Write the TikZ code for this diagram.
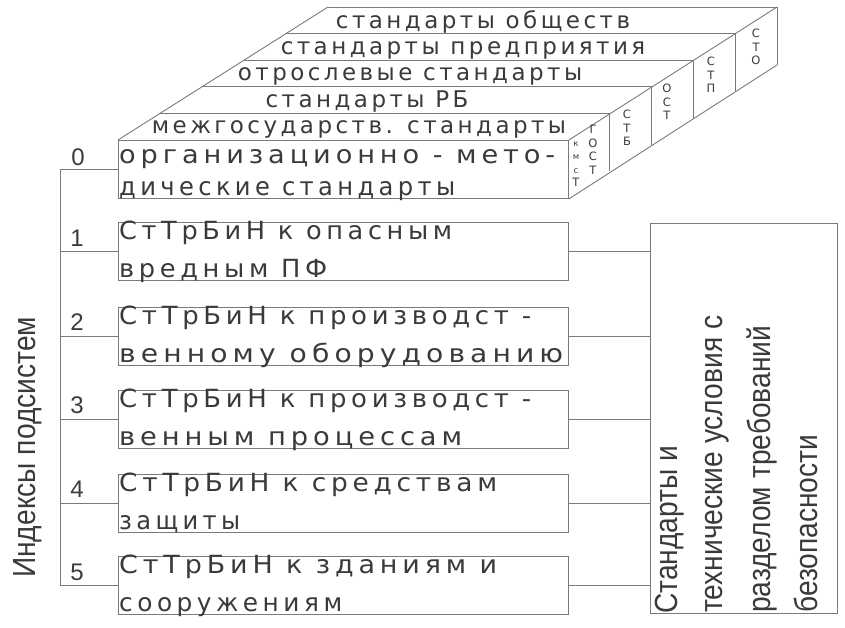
\documentclass[tikz,border=0pt]{standalone}
\usepackage{graphicx}
\usepackage{fontspec}
\setmainfont{DejaVu Sans}
\newfontfamily\spfont[LetterSpace=18]{DejaVu Sans}
\newfontfamily\topfont[LetterSpace=15]{DejaVu Sans}
\newfontfamily\arialfont{Liberation Sans}
\newfontfamily\sidefont{DejaVu Sans}
\definecolor{ink}{HTML}{3A3A3A}
\definecolor{rulec}{HTML}{7A7A7A}
\newcommand{\fitw}[2]{\resizebox{#1pt}{\height}{#2}}
\begin{document}
\begin{tikzpicture}[x=1pt,y=-1pt,
  ln/.style={draw=rulec,line width=0.9pt},
  bx/.style={ln,rectangle,inner sep=0pt,minimum width=450pt,minimum height=58pt,anchor=north west},
  tx/.style={inner sep=0pt,anchor=base west,text=ink,font=\spfont\fontsize{25}{25}\selectfont},
  toptx/.style={inner sep=0pt,anchor=base,text=ink,font=\topfont\fontsize{23}{23}\selectfont},
  num/.style={inner sep=0pt,anchor=base,text=ink,font=\arialfont\fontsize{24}{24}\selectfont},
  side/.style={inner sep=0pt,align=center,text=ink,font=\sidefont\fontsize{11.5}{13.5}\selectfont},
  rottx/.style={inner sep=0pt,anchor=base west,rotate=90,text=ink,font=\arialfont\fontsize{32}{32}\selectfont}
]
\useasboundingbox (0,0) rectangle (845,627);

% boxes
\node[bx] (b0) at (118,140) {};
\node[bx] (b1) at (118,222) {};
\node[bx] (b2) at (118,307) {};
\node[bx] (b3) at (118,390) {};
\node[bx] (b4) at (118,474) {};
\node[bx] (b5) at (118,556) {};
\node[ln,rectangle,inner sep=0pt,minimum width=187pt,minimum height=390pt,anchor=north west] (rt) at (650,223) {};

% 3D block: top face and right face
\foreach \k in {1,...,5}{
  \draw[ln] (118+42*\k,140-26.6*\k) -- (568+41.8*\k,140-26.6*\k);
  \draw[ln] (568+41.8*\k,140-26.6*\k) -- (568+41.8*\k,198-26.6*\k);
}
\draw[ln] (b0.north west) -- (328,7);
\draw[ln] (b0.north east) -- (777,7);
\draw[ln] (b0.south east) -- (777,65);

% top layer texts
\node[toptx] (l5) at (483,28) {стандарты обществ};
\node[toptx] (l4) at (463,54) {стандарты предприятия};
\node[toptx] (l3) at (410,80) {отрослевые стандарты};
\node[toptx] (l2) at (367,107) {стандарты РБ};
\node[toptx] (l1) at (359,133) {межгосударств. стандарты};

% side labels
\node[side,font=\sidefont\fontsize{8.5}{13.5}\selectfont] (s0) at (576,164) {к\\м\\с\\{\fontsize{11.5}{11.5}\selectfont Т}};
\node[side] (s1) at (593,150) {Г\\О\\С\\Т};
\node[side] (s2) at (627,128) {С\\Т\\Б};
\node[side] (s3) at (667,102) {О\\С\\Т};
\node[side] (s4) at (711,75) {С\\Т\\П};
\node[side] (s5) at (756,47) {С\\Т\\О};

% box texts
\node[tx] (t0a) at (119,163) {\fitw{436}{организационно - мето-}};
\node[tx] (t0b) at (119,195) {\fitw{336}{дические стандарты}};
\node[tx] (t1a) at (119,239) {\fitw{333}{СтТрБиН к опасным}};
\node[tx] (t1b) at (119,277) {\fitw{208}{вредным ПФ}};
\node[tx] (t2a) at (119,324) {\fitw{412}{СтТрБиН к производст -}};
\node[tx] (t2b) at (119,362) {\fitw{444}{венному оборудованию}};
\node[tx] (t3a) at (119,407) {\fitw{412}{СтТрБиН к производст -}};
\node[tx] (t3b) at (119,445) {\fitw{343}{венным процессам}};
\node[tx] (t4a) at (119,491) {\fitw{378}{СтТрБиН к средствам}};
\node[tx] (t4b) at (119,529) {\fitw{121}{защиты}};
\node[tx] (t5a) at (119,573) {\fitw{378}{СтТрБиН к зданиям и}};
\node[tx] (t5b) at (119,611) {\fitw{223}{сооружениям}};

% indices
\node[num] (n0) at (78,165) {0};
\node[num] (n1) at (77,246) {1};
\node[num] (n2) at (77,330) {2};
\node[num] (n3) at (77,413) {3};
\node[num] (n4) at (77,497) {4};
\node[num] (n5) at (77,580) {5};

% connectors
\coordinate (sp) at (60,0);
\draw[ln] (b0.west) -- (b0.west -| sp) -- (b5.west -| sp) -- (b5.west);
\foreach \i in {1,...,4}{\draw[ln] (b\i.west) -- (b\i.west -| sp);}
\foreach \i in {1,...,5}{\draw[ln] (b\i.east) -- (b\i.east -| rt.west);}

% rotated labels
\node[rottx] (idx) at (35,578) {\scalebox{0.88}[1]{Индексы подсистем}};
\node[rottx] (r1) at (677,614) {\scalebox{0.88}[1]{Стандарты и}};
\node[rottx] (r2) at (722,613) {\scalebox{0.88}[1]{технические условия с}};
\node[rottx] (r3) at (770,613) {\scalebox{0.88}[1]{разделом требований}};
\node[rottx] (r4) at (817,613) {\scalebox{0.88}[1]{безопасности}};
\end{tikzpicture}
\end{document}
